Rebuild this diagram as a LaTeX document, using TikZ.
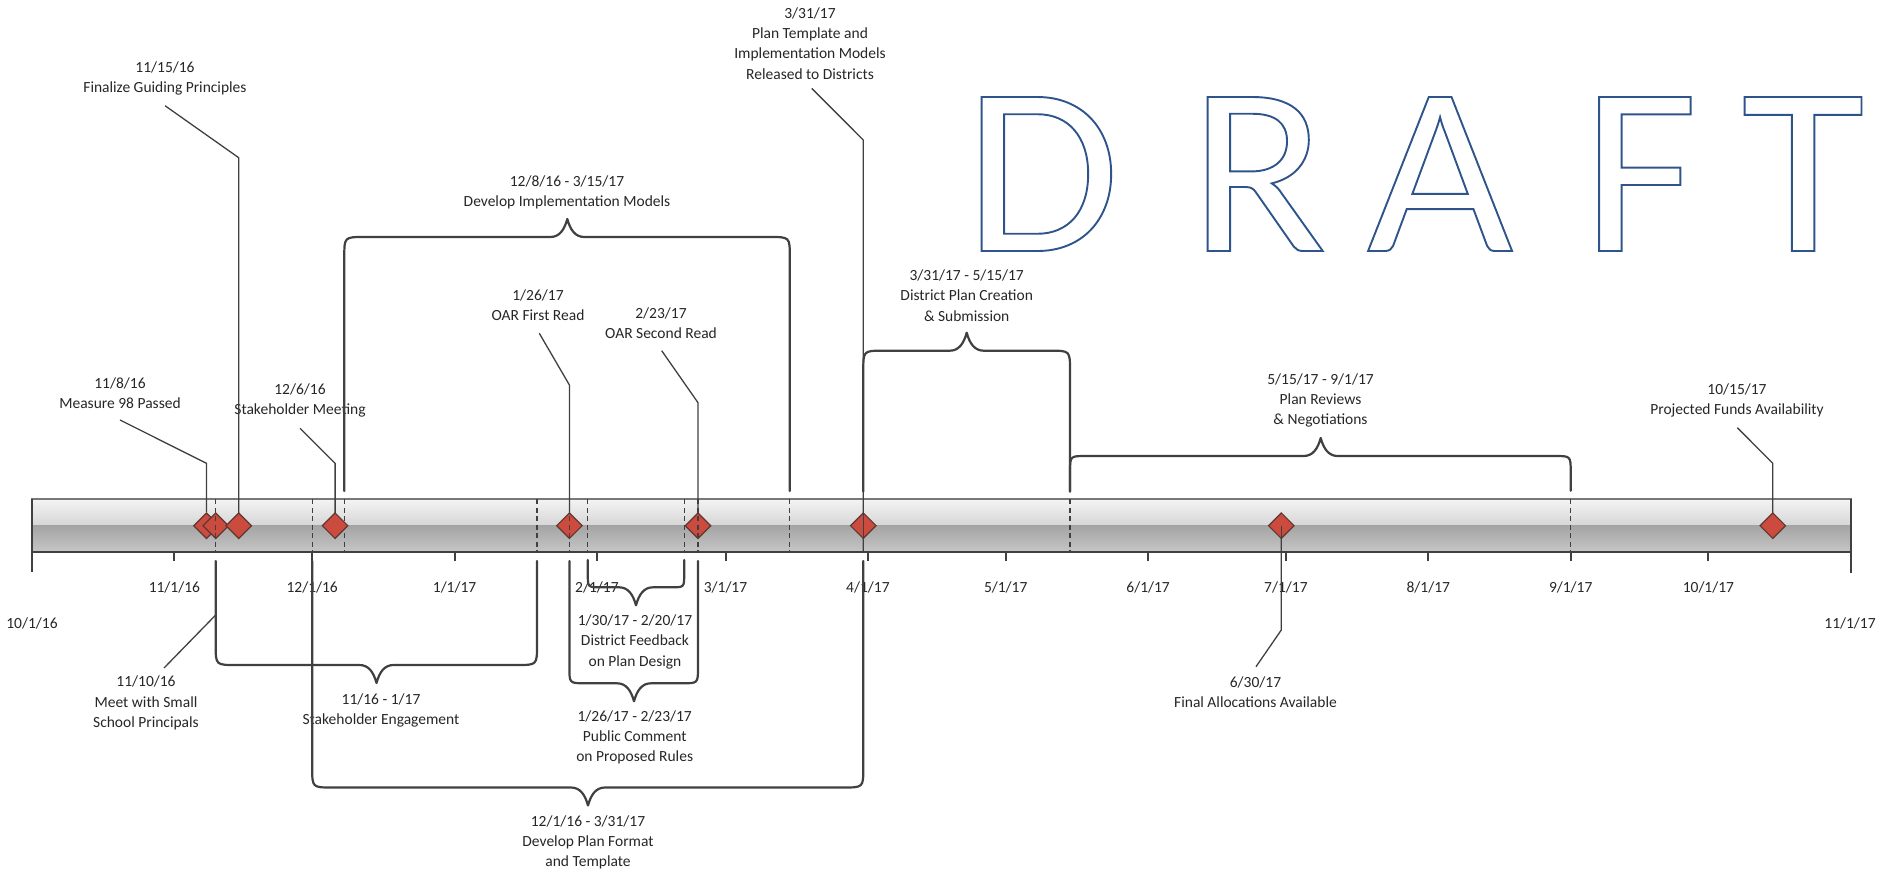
\documentclass[tikz,border=0pt]{standalone}
\usepackage{fontspec}
\setmainfont{Carlito}
\newfontfamily\draftfont{Carlito}[FakeStretch=1.05]
\usetikzlibrary{shapes.geometric}
\definecolor{txt}{RGB}{38,38,38}
\definecolor{ln}{RGB}{64,64,64}
\definecolor{msred}{RGB}{203,76,62}
\definecolor{msedge}{RGB}{95,55,50}
\definecolor{draftblue}{RGB}{47,84,140}
\definecolor{barA}{RGB}{244,244,244}
\definecolor{barB}{RGB}{214,214,214}
\definecolor{barC}{RGB}{164,164,164}
\definecolor{barD}{RGB}{198,198,198}
\definecolor{baredge}{RGB}{120,120,120}
\tikzset{
 lbl/.style={font=\fontsize{15.5}{20.3}\selectfont, text=txt, align=center, inner sep=0pt},
 bracepath/.style={draw=ln, line width=2.2pt, line join=round, line cap=round},
 leader/.style={draw=ln, line width=1.3pt},
 bardash/.style={draw=ln, line width=1.2pt, dash pattern=on 5pt off 3.5pt},
 ms/.style={diamond, draw=msedge, line width=1.2pt, fill=msred, minimum width=26pt, minimum height=26pt, inner sep=0pt},
 tickmark/.style={draw=ln, line width=2pt},
 draftlet/.style={font=\draftfont\fontsize{240}{240}\selectfont, text=draftblue, inner sep=0pt, anchor=base,
   text height=152pt, text depth=0pt,
   execute at begin node={\special{pdf:literal direct 1 Tr 1.9 w}},
   execute at end node={\special{pdf:literal direct 0 Tr}}},
}
% #1 x1, #2 x2, #3 ystart, #4 yline, #5 xm, #6 sign (+1 tip down, -1 tip up), #7 radius
\newcommand{\tlbrace}[7]{%
 \draw[bracepath] (#1,#3) -- (#1,{#4-#6*#7}) .. controls (#1,#4) .. ({#1+#7},#4)
   -- ({#5-17},#4) .. controls ({#5-8},#4) and ({#5-3},{#4+#6*7}) .. (#5,{#4+#6*18})
   .. controls ({#5+3},{#4+#6*7}) and ({#5+8},#4) .. ({#5+17},#4)
   -- ({#2-#7},#4) .. controls (#2,#4) .. (#2,{#4-#6*#7}) -- (#2,#3);}
\begin{document}
\begin{tikzpicture}[x=1pt,y=-1pt]
\useasboundingbox (0,0) rectangle (1879,872);

% ---- bar ----
\shade[top color=barA, bottom color=barB] (32,499) rectangle (1851,525.5);
\shade[top color=barC, bottom color=barD] (32,525.5) rectangle (1851,552);
\draw[line width=1.2pt, baredge] (32,552) -- (32,499) -- (1851,499) -- (1851,552);
\draw[line width=2pt, ln] (32,552) -- (1851,552);
\draw[line width=1.5pt, ln] (32,499) -- (32,572);
\draw[line width=1.5pt, ln] (1851,499) -- (1851,573);
\foreach \d in {31,61,92,123,151,182,212,243,273,304,335,365}
  \draw[tickmark] ({32+4.593*\d},552) -- ++(0,9);

% ---- axis labels ----
\node[lbl] (e0) at (32,623) {10/1/16};
\node[lbl] (tk1) at (174.4,587) {11/1/16};
\node[lbl] (tk2) at (312.2,587) {12/1/16};
\node[lbl] (tk3) at (454.6,587) {1/1/17};
\node[lbl] (tk4) at (596.9,587) {2/1/17};
\node[lbl] (tk5) at (725.5,587) {3/1/17};
\node[lbl] (tk6) at (867.9,587) {4/1/17};
\node[lbl] (tk7) at (1005.7,587) {5/1/17};
\node[lbl] (tk8) at (1148.1,587) {6/1/17};
\node[lbl] (tk9) at (1285.9,587) {7/1/17};
\node[lbl] (tk10) at (1428.3,587) {8/1/17};
\node[lbl] (tk11) at (1570.7,587) {9/1/17};
\node[lbl] (tk12) at (1708.4,587) {10/1/17};
\node[lbl] (e13) at (1850,623) {11/1/17};

% ---- milestone labels ----
\node[lbl] (l1) at (120,393) {11/8/16\\Measure 98 Passed};
\node[lbl] (l2) at (146,703) {11/10/16\\Meet with Small\\School Principals};
\node[lbl] (l3) at (165,78.3) {11/15/16\\Finalize Guiding Principles};
\node[lbl] (l4) at (300,400.7) {12/6/16\\Stakeholder Meeting};
\node[lbl] (l5) at (538,305.3) {1/26/17\\OAR First Read};
\node[lbl] (l6) at (661,323) {2/23/17\\OAR Second Read};
\node[lbl] (l7) at (810,43.5) {3/31/17\\Plan Template and\\Implementation Models\\Released to Districts};
\node[lbl] (l8) at (1255.5,692.3) {6/30/17\\Final Allocations Available};
\node[lbl] (l9) at (1737,400.2) {10/15/17\\Projected Funds Availability};

% ---- range labels ----
\node[lbl] (rA) at (567,192.2) {12/8/16 - 3/15/17\\Develop Implementation Models};
\node[lbl] (rB) at (588,842.5) {12/1/16 - 3/31/17\\Develop Plan Format\\and Template};
\node[lbl] (r1) at (381,710.7) {11/16 - 1/17\\Stakeholder Engagement};
\node[lbl] (rC) at (635,641.8) {1/30/17 - 2/20/17\\District Feedback\\on Plan Design};
\node[lbl] (rD) at (634.7,737.5) {1/26/17 - 2/23/17\\Public Comment\\on Proposed Rules};
\node[lbl] (rE) at (966.7,295.5) {3/31/17 - 5/15/17\\District Plan Creation\\\& Submission};
\node[lbl] (rF) at (1320.5,400.4) {5/15/17 - 9/1/17\\Plan Reviews\\\& Negotiations};

% ---- dashed markers in the bar ----
\foreach \x in {312.2,344.3,537,587.8,684.2,789.8,1070,1570.7}
  \draw[bardash] (\x,499) -- (\x,552);

% ---- leaders (behind diamonds) ----
\coordinate (k1a) at (120,420);  \coordinate (k1b) at (206.5,463.3);
\coordinate (k3a) at (165,105.7); \coordinate (k3b) at (238.7,157.7);
\coordinate (k4a) at (300,428.3); \coordinate (k4b) at (335.1,463.3);
\coordinate (k5a) at (539.3,333.3); \coordinate (k5b) at (569.4,385);
\coordinate (k6a) at (661.7,350.7); \coordinate (k6b) at (698,402.7);
\coordinate (k7a) at (811.7,88.3); \coordinate (k7b) at (863.3,140);
\coordinate (k9a) at (1737.3,427.7); \coordinate (k9b) at (1772.8,463.3);

\node[ms] (m1) at (206.5,525.7) {};
\draw[leader] (k1a) -- (k1b) -- (m1.north);
\draw[leader] (k3a) -- (k3b) -- (238.7,515);
\draw[leader] (k4a) -- (k4b) -- (335.1,515);
\draw[leader] (k5a) -- (k5b) -- (569.4,515);
\draw[leader] (k6a) -- (k6b) -- (698,515);
\draw[leader] (k7a) -- (k7b) -- (863.3,552);
\draw[leader] (k9a) -- (k9b) -- (1772.8,515);
\draw[leader] (1281.3,530) -- (1281.3,630) -- (1256,666.7);

% ---- diamonds ----
\node[ms] (m2) at (215.7,525.7) {};
\node[ms] (m3) at (238.7,525.7) {};
\node[ms] (m4) at (335.1,525.7) {};
\node[ms] (m5) at (569.4,525.7) {};
\node[ms] (m6) at (698,525.7) {};
\node[ms] (m7) at (863.3,525.7) {};
\node[ms] (m8) at (1281.3,525.7) {};
\node[ms] (m9) at (1772.8,525.7) {};

% lines drawn over diamonds
\foreach \x in {215.7,569.4,698}
  \draw[bardash] (\x,499) -- (\x,552);
\draw[leader] (m7.north) -- (m7.south) -- (863.3,552);
\draw[leader] (m8.center) -- (m8.south);

% 11/10 leader below bar
\draw[leader] (215.7,561) -- (215.7,615) -- (164,668);

% ---- braces ----
\tlbrace{215.7}{537}{561}{665}{376.5}{1}{20}
\tlbrace{312.2}{863.3}{561}{787.5}{588}{1}{20}
\tlbrace{587.8}{684.2}{560}{587.3}{636}{1}{13}
\tlbrace{569.4}{698}{561}{683.3}{634}{1}{16}
\tlbrace{344.3}{789.8}{491}{237}{567.3}{-1}{20}
\tlbrace{863.3}{1070}{491.7}{350.7}{966.7}{-1}{20}
\tlbrace{1070}{1570.7}{490.7}{456}{1320.7}{-1}{16}

% ---- DRAFT ----
\node[draftlet] (dD) at (1042,251) {D};
\node[draftlet] (dR) at (1258,251) {R};
\node[draftlet] (dA) at (1440,251) {A};
\node[draftlet] (dF) at (1640,251) {F};
\node[draftlet] (dT) at (1803,251) {T};
\end{tikzpicture}
\end{document}
